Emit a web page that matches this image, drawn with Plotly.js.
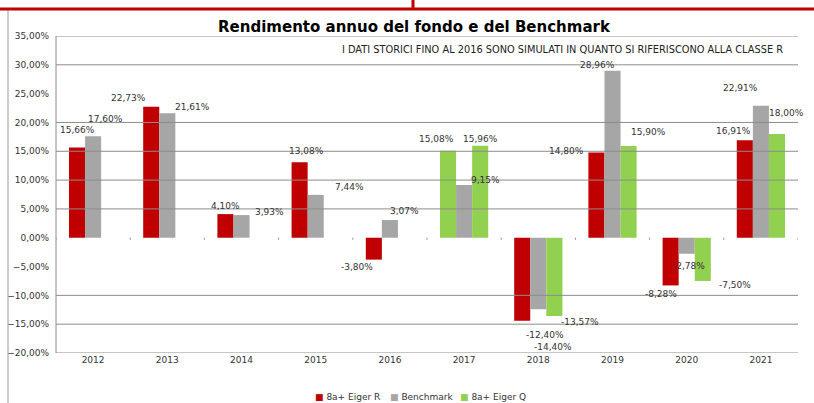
<!DOCTYPE html>
<html><head><meta charset="utf-8">
<script src="https://cdn.plot.ly/plotly-3.0.1.min.js"></script>
<style>html,body{margin:0;padding:0;background:#fff}#chart{width:814px;height:403px}</style>
</head><body><div id="chart"></div>
<script>
const years = ['2012','2013','2014','2015','2016','2017','2018','2019','2020','2021'];
const eigerR = [15.66, 22.73, 4.10, 13.08, -3.80, 15.08, -14.40, 14.80, -8.28, 16.91];
const benchmark = [17.60, 21.61, 3.93, 7.44, 3.07, 9.15, -12.40, 28.96, -2.78, 22.91];
const eigerQ = [null, null, null, null, null, 15.96, -13.57, 15.90, -7.50, 18.00];
const seriesNames = ['8a+ Eiger R', 'Benchmark', '8a+ Eiger Q'];
const gridLevels = [35, 30, 20, 15, 10, 5, -10, -15, -20];

// data-label placement (pixel offsets from bar end), mimicking the hand-placed Excel labels
const labelDx = [
  [0, -23, 0, 7, -17, -12, 31, -30, -10, -11],
  [12, 25, 28, 34, 15, 21, 7, -15, 2, -20],
  [0, 0, 0, 0, 0, 0, 26, 20, 32, 10]
];
const labelDy = [
  [17, 9, 8, 11, -7, 12, -26, 1, -9, 9],
  [17, 6, 3, 8, 9, 5, -26, 6, -12, 18],
  [0, 0, 0, 0, 0, 7, -6, 14, -4, 21]
];

const RED = '#c00000', GRAY = '#a6a6a6', GREEN = '#92d050';
const seriesColors = [RED, GRAY, GREEN];
// the 2017 first-slot bar is drawn green in the reference
const rColors = years.map(y => y === '2017' ? GREEN : RED);

const series = [eigerR, benchmark, eigerQ];
const data = [
  {type:'bar', name:seriesNames[0], x:years, y:eigerR, marker:{color:rColors}},
  {type:'bar', name:seriesNames[1], x:years, y:benchmark, marker:{color:GRAY}},
  {type:'bar', name:seriesNames[2], x:years, y:eigerQ, marker:{color:GREEN}}
];

const BARGAP = 0.35;
const slot = (1 - BARGAP) / 3;
const fmt = v => v.toFixed(2).replace('.', ',') + '%';
const labelAnn = [];
series.forEach((vals, s) => {
  vals.forEach((v, i) => {
    if (v === null) return;
    labelAnn.push({
      text: fmt(v), x: i + (s - 1) * slot, y: v, xref:'x', yref:'y',
      xanchor:'center', yanchor:'middle', showarrow:false,
      xshift: labelDx[s][i], yshift: labelDy[s][i],
      font:{size:9, color:'#333', family:'DejaVu Sans'}
    });
  });
});

const W = 742, H = 317, L = 56, T = 36;
const px = x => (x - L) / W;
const py = y => (T + H - y) / H;

const shapes = gridLevels.map(v => ({type:'line', xref:'paper', yref:'y', x0:0, x1:1, y0:v, y1:v,
  line:{color:'#8c8c8c', width:1}}));
shapes.push({type:'line', xref:'paper', yref:'paper', x0:0, x1:0, y0:0, y1:1, line:{color:'#8c8c8c', width:1}});
// small tick marks on the zero line between categories
years.forEach((y, i) => {
  shapes.push({type:'line', xref:'x', yref:'y', x0:i - 0.5, x1:i - 0.5, y0:0, y1:-0.35, line:{color:'#8c8c8c', width:1}});
});
shapes.push({type:'line', xref:'x', yref:'y', x0:years.length - 0.5, x1:years.length - 0.5, y0:0, y1:-0.35, line:{color:'#8c8c8c', width:1}});
// slide frame
shapes.push({type:'line', xref:'paper', yref:'paper', x0:px(8), x1:px(8), y0:py(403), y1:py(10), line:{color:'#9a9a9a', width:1}});
shapes.push({type:'line', xref:'paper', yref:'paper', x0:px(0), x1:px(814), y0:py(9), y1:py(9), line:{color:RED, width:3}});
shapes.push({type:'line', xref:'paper', yref:'paper', x0:px(413), x1:px(413), y0:py(9), y1:py(0), line:{color:RED, width:3}});

// legend drawn as annotations (compact Excel-like legend)
const legendX = [313, 388, 458];
const legendAnn = seriesNames.map((n, i) => ({
  text:'<span style="color:' + seriesColors[i] + '">■</span> ' + n,
  xref:'paper', yref:'paper', x:px(legendX[i]), xanchor:'left', y:py(397), yanchor:'middle',
  showarrow:false, font:{size:9, color:'#333', family:'DejaVu Sans'}
}));

const layout = {
  width:814, height:403,
  margin:{l:L, r:814 - L - W, t:T, b:403 - T - H},
  paper_bgcolor:'#fff', plot_bgcolor:'#fff',
  font:{family:'DejaVu Sans', size:9, color:'#333'},
  separators:',.',
  title:{text:'<b>Rendimento annuo del fondo e del Benchmark</b>', font:{family:'DejaVu Sans', size:15, color:'#000'},
    x:414/814, xanchor:'center', y:1-27/403, yanchor:'middle', yref:'container'},
  barmode:'group', bargap:BARGAP, bargroupgap:0,
  showlegend:false,
  xaxis:{type:'category', range:[-0.5, years.length - 0.5], autorange:false, showgrid:false, showline:false, zeroline:false,
    ticks:'', tickfont:{size:9, color:'#333'}},
  yaxis:{range:[-20,35], autorange:false, dtick:5, tickformat:'.2f', ticksuffix:'%', showgrid:false, zeroline:false, showline:false,
    ticks:'', ticklabelstandoff:6, tickfont:{size:9, color:'#333'}},
  shapes:shapes,
  annotations:[{text:'I DATI STORICI FINO AL 2016 SONO SIMULATI IN QUANTO SI RIFERISCONO ALLA CLASSE R',
    xref:'paper', yref:'paper', x:px(785), xanchor:'right', y:py(50), yanchor:'middle', showarrow:false,
    font:{size:9.8, color:'#222', family:'DejaVu Sans'}}].concat(legendAnn, labelAnn)
};
Plotly.newPlot('chart', data, layout, {staticPlot:true, displayModeBar:false});
</script></body></html>
